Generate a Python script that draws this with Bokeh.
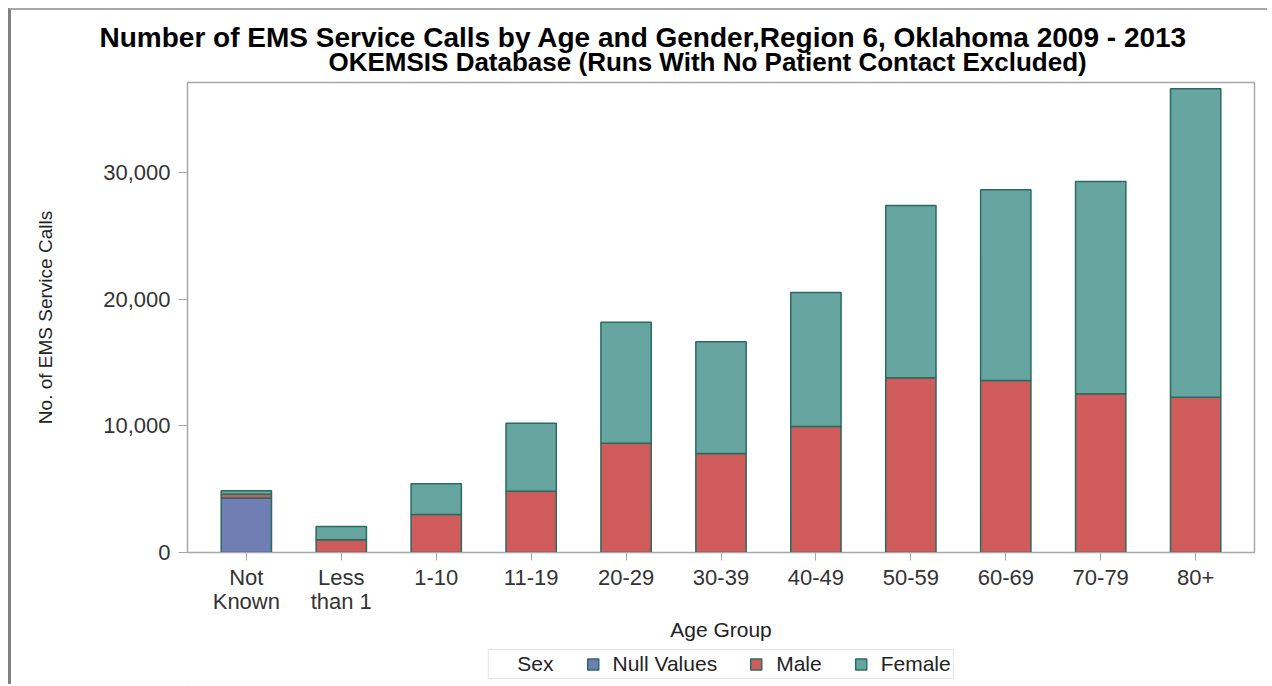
from bokeh.plotting import figure
from bokeh.layouts import column
from bokeh.models import (FactorRange, Range1d, NumeralTickFormatter, Legend, LegendItem,
                          Title, FixedTicker, ColumnDataSource, CategoricalAxis,
                          CustomJSTickFormatter)
from bokeh.embed import file_html
from bokeh.resources import INLINE

# ---- data ----
age_groups = ["Not Known", "Less than 1", "1-10", "11-19", "20-29", "30-39",
              "40-49", "50-59", "60-69", "70-79", "80+"]
tick_line1 = ["Not", "Less", "1-10", "11-19", "20-29", "30-39",
              "40-49", "50-59", "60-69", "70-79", "80+"]
tick_line2 = ["Known", "than 1", "", "", "", "", "", "", "", "", ""]
null_values = [4300, 0, 0, 0, 0, 0, 0, 0, 0, 0, 0]
male = [300, 1000, 3000, 4840, 8630, 7820, 9950, 13790, 13580, 12530, 12260]
female = [270, 1050, 2420, 5360, 9550, 8810, 10570, 13600, 15050, 16750, 24340]
y_ticks = [0, 10000, 20000, 30000]
series_names = ["Null Values", "Male", "Female"]
legend_title = "Sex"
title_text = "Number of EMS Service Calls by Age and Gender,Region 6, Oklahoma 2009 - 2013"
subtitle_text = "OKEMSIS Database (Runs With No Patient Contact Excluded)"

FONT = "Liberation Sans"
colors = ["#6F7EB3", "#D05B5B", "#66A5A0"]
edge = "#2b6b5f"

W, H = 1256, 638
ML, MR, MT, MB = 176, 13, 72, 96

src = ColumnDataSource(dict(age=age_groups, null=null_values, male=male, female=female))

p = figure(width=W, height=H, output_backend="svg", toolbar_location=None,
           x_range=FactorRange(factors=age_groups, range_padding=0.0218),
           y_range=Range1d(0, 37100),
           min_border_left=ML, min_border_right=MR, min_border_top=MT, min_border_bottom=MB)

renderers = p.vbar_stack(["null", "male", "female"], x="age", width=0.53, source=src,
                         fill_color=colors, line_color=edge, line_width=1.5)

# titles
sub = Title(text=subtitle_text, align="left", offset=141,
            text_font=FONT, text_font_size="26px", text_font_style="bold", text_color="#000000",
            standoff=12)
main = Title(text=title_text, align="left", offset=-88,
             text_font=FONT, text_font_size="28px", text_font_style="bold", text_color="#000000",
             standoff=-28)
p.add_layout(sub, "above")
p.add_layout(main, "above")

# axes
p.xgrid.visible = False
p.ygrid.visible = False
p.outline_line_color = "#a8a8a8"
p.outline_line_width = 1.5

p.yaxis.ticker = FixedTicker(ticks=y_ticks)
p.yaxis.formatter = NumeralTickFormatter(format="0,0")
p.yaxis.axis_label = "No. of EMS Service Calls"
p.yaxis.axis_label_text_font = FONT
p.yaxis.axis_label_text_font_size = "19px"
p.yaxis.axis_label_text_font_style = "normal"
p.yaxis.axis_label_text_color = "#222222"
p.yaxis.axis_label_standoff = 44
p.yaxis.major_label_text_font = FONT
p.yaxis.major_label_text_font_size = "22px"
p.yaxis.major_label_text_color = "#333333"
p.yaxis.major_label_standoff = 8
p.yaxis.major_tick_in = 0
p.yaxis.major_tick_out = 9
p.yaxis.minor_tick_line_color = None
p.yaxis.axis_line_color = "#a8a8a8"
p.yaxis.major_tick_line_color = "#a8a8a8"

code = "const i = factors.indexOf(tick); return i >= 0 ? labels[i] : tick;"
xa = p.xaxis[0]
xa.formatter = CustomJSTickFormatter(args=dict(factors=age_groups, labels=tick_line1), code=code)
xa.major_label_text_font = FONT
xa.major_label_text_font_size = "22px"
xa.major_label_text_color = "#333333"
xa.major_label_standoff = 4
xa.major_tick_in = 0
xa.major_tick_out = 8
xa.axis_line_color = "#a8a8a8"
xa.major_tick_line_color = "#a8a8a8"

xa2 = CategoricalAxis(formatter=CustomJSTickFormatter(args=dict(factors=age_groups, labels=tick_line2),
                                                      code=code),
                      major_label_text_font=FONT, major_label_text_font_size="22px",
                      major_label_text_color="#333333", major_label_standoff=-4,
                      major_tick_in=0, major_tick_out=0, axis_line_color=None,
                      major_tick_line_color=None,
                      axis_label="Age Group", axis_label_text_font=FONT,
                      axis_label_text_font_size="21px", axis_label_text_font_style="normal",
                      axis_label_text_color="#222222", axis_label_standoff=1)
p.add_layout(xa2, "below")

# legend in its own strip below the chart
lf = figure(width=W, height=36, output_backend="svg", toolbar_location=None,
            x_axis_type=None, y_axis_type=None, x_range=(0, 1), y_range=(0, 1),
            min_border_left=ML, min_border_right=MR, min_border_top=0, min_border_bottom=0)
lf.outline_line_color = None
lf.xgrid.visible = False
lf.ygrid.visible = False
# legend-only glyphs, kept outside the visible range of this strip
blank = lf.vbar(x=[-5], top=[-5], width=0.5, fill_alpha=0, line_alpha=0)
swatches = [lf.vbar(x=[-5], top=[-5], width=0.5, fill_color=c, line_color=edge, line_width=1.5)
            for c in colors]
items = [LegendItem(label=legend_title, renderers=[blank])]
items += [LegendItem(label=n, renderers=[r]) for n, r in zip(series_names, swatches)]
legend = Legend(items=items, orientation="horizontal", location="top_center",
                label_text_font=FONT, label_text_font_size="21px", label_text_color="#222222",
                glyph_width=14, glyph_height=14, label_standoff=13, spacing=32,
                padding=2, margin=1,
                border_line_color="#c8c8c8", border_line_width=1.5)
lf.add_layout(legend, "center")

layout = column(p, lf, spacing=0,
                styles={"margin-left": "8px", "margin-top": "8px",
                        "border-left": "3px solid #808080", "border-top": "2px solid #a8a8a8"})

open("out.html", "w").write(file_html(layout, INLINE))
